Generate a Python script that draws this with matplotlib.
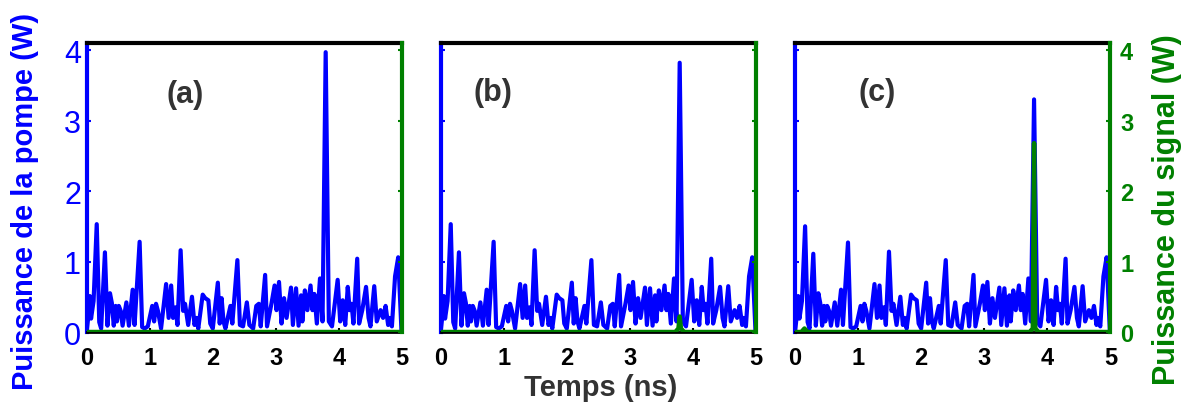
import matplotlib
matplotlib.use("Agg")
import matplotlib.pyplot as plt

# Time axis (ns)
t_pump = [0.00, 0.03, 0.05, 0.07, 0.11, 0.16, 0.20, 0.23, 0.29, 0.33, 0.37, 0.40, 0.43, 0.46,
          0.48, 0.51, 0.54, 0.57, 0.63, 0.67, 0.73, 0.76, 0.84, 0.88, 0.92, 0.97, 1.04, 1.07,
          1.10, 1.13, 1.18, 1.26, 1.30, 1.34, 1.37, 1.41, 1.44, 1.49, 1.53, 1.56, 1.61, 1.67,
          1.71, 1.74, 1.77, 1.84, 1.88, 1.93, 1.96, 2.00, 2.08, 2.11, 2.14, 2.17, 2.20, 2.28,
          2.31, 2.39, 2.43, 2.48, 2.54, 2.58, 2.64, 2.69, 2.73, 2.76, 2.83, 2.86, 2.93, 2.98,
          3.01, 3.05, 3.09, 3.13, 3.17, 3.24, 3.27, 3.32, 3.36, 3.40, 3.42, 3.46, 3.50, 3.55,
          3.58, 3.61, 3.65, 3.70, 3.74, 3.79, 3.84, 3.89, 3.98, 4.02, 4.06, 4.10, 4.14, 4.17,
          4.20, 4.23, 4.29, 4.32, 4.37, 4.43, 4.47, 4.50, 4.56, 4.60, 4.66, 4.70, 4.74, 4.78,
          4.80, 4.84, 4.89, 4.94, 4.99]
# Pump power (W) for panels (a), (b), (c)
pump_a = [0.00, 0.25, 0.51, 0.19, 0.44, 1.53, 0.14, 0.05, 1.13, 0.09, 0.55, 0.41, 0.09, 0.37,
          0.15, 0.37, 0.30, 0.09, 0.42, 0.09, 0.60, 0.10, 1.28, 0.07, 0.05, 0.08, 0.37, 0.15,
          0.40, 0.30, 0.05, 0.68, 0.20, 0.66, 0.20, 0.35, 0.10, 1.16, 0.30, 0.40, 0.10, 0.50,
          0.10, 0.20, 0.05, 0.53, 0.48, 0.45, 0.12, 0.05, 0.70, 0.12, 0.48, 0.15, 0.05, 0.37,
          0.12, 1.02, 0.10, 0.08, 0.42, 0.10, 0.05, 0.37, 0.40, 0.08, 0.81, 0.08, 0.40, 0.66,
          0.31, 0.71, 0.12, 0.48, 0.20, 0.63, 0.10, 0.62, 0.09, 0.52, 0.15, 0.59, 0.31, 0.66,
          0.31, 0.54, 0.12, 0.76, 0.15, 3.97, 0.15, 0.08, 0.74, 0.15, 0.45, 0.10, 0.64, 0.31,
          0.40, 0.12, 1.04, 0.12, 0.31, 0.64, 0.20, 0.08, 0.65, 0.15, 0.31, 0.20, 0.37, 0.10,
          0.20, 0.08, 0.79, 1.06, 0.05]
pump_b = [0.00, 0.25, 0.51, 0.19, 0.44, 1.53, 0.14, 0.05, 1.13, 0.09, 0.55, 0.41, 0.09, 0.37,
          0.15, 0.37, 0.30, 0.09, 0.42, 0.09, 0.60, 0.10, 1.28, 0.07, 0.05, 0.08, 0.37, 0.15,
          0.40, 0.30, 0.05, 0.68, 0.20, 0.66, 0.20, 0.35, 0.10, 1.16, 0.30, 0.40, 0.10, 0.50,
          0.10, 0.20, 0.05, 0.53, 0.48, 0.45, 0.12, 0.05, 0.70, 0.12, 0.48, 0.15, 0.05, 0.37,
          0.12, 1.02, 0.10, 0.08, 0.42, 0.10, 0.05, 0.37, 0.40, 0.08, 0.81, 0.08, 0.40, 0.66,
          0.31, 0.71, 0.12, 0.48, 0.20, 0.63, 0.10, 0.62, 0.09, 0.52, 0.15, 0.59, 0.31, 0.66,
          0.31, 0.54, 0.12, 0.76, 0.15, 3.82, 0.15, 0.08, 0.74, 0.15, 0.45, 0.10, 0.64, 0.31,
          0.40, 0.12, 1.04, 0.12, 0.31, 0.64, 0.20, 0.08, 0.65, 0.15, 0.31, 0.20, 0.37, 0.10,
          0.20, 0.08, 0.79, 1.06, 0.05]
pump_c = [0.00, 0.25, 0.51, 0.19, 0.44, 1.50, 0.14, 0.05, 1.11, 0.09, 0.55, 0.41, 0.09, 0.37,
          0.15, 0.37, 0.30, 0.09, 0.42, 0.09, 0.60, 0.10, 1.27, 0.07, 0.05, 0.08, 0.37, 0.15,
          0.40, 0.30, 0.05, 0.68, 0.20, 0.66, 0.20, 0.35, 0.10, 1.14, 0.30, 0.40, 0.10, 0.50,
          0.10, 0.20, 0.05, 0.53, 0.48, 0.45, 0.12, 0.05, 0.70, 0.12, 0.48, 0.15, 0.05, 0.37,
          0.12, 1.02, 0.10, 0.08, 0.42, 0.10, 0.05, 0.37, 0.40, 0.08, 0.81, 0.08, 0.40, 0.66,
          0.31, 0.71, 0.12, 0.48, 0.20, 0.63, 0.10, 0.62, 0.09, 0.52, 0.15, 0.59, 0.31, 0.66,
          0.31, 0.54, 0.12, 0.76, 0.15, 3.30, 0.15, 0.08, 0.74, 0.15, 0.45, 0.10, 0.64, 0.31,
          0.40, 0.12, 1.04, 0.12, 0.31, 0.64, 0.20, 0.08, 0.65, 0.15, 0.31, 0.20, 0.37, 0.10,
          0.20, 0.08, 0.79, 1.06, 0.05]

# Signal power (W)
t_sig = [0.00, 0.10, 0.15, 0.20, 3.72, 3.77, 3.79, 3.81, 3.86, 5.00]
sig_a = [0.00, 0.00, 0.00, 0.00, 0.00, 0.00, 0.00, 0.00, 0.00, 0.00]
sig_b = [0.00, 0.00, 0.00, 0.00, 0.00, 0.05, 0.22, 0.05, 0.00, 0.00]
sig_c = [0.00, 0.00, 0.05, 0.00, 0.00, 0.05, 2.68, 0.05, 0.00, 0.00]

panel_labels = ["(a)", "(b)", "(c)"]
label_pos = [(1.56, 3.37), (0.83, 3.41), (1.30, 3.41)]
x_ticks = [0, 1, 2, 3, 4, 5]
y_ticks = [0, 1, 2, 3, 4]

BLUE = "#0000FF"
GREEN = "#008000"
GRAY = "#333333"

plt.rcParams['font.family'] = ["Liberation Sans", "DejaVu Sans"]

fig = plt.figure(figsize=(11.82, 4.06), dpi=100)
lefts = [0.0733, 0.3728, 0.6726]
width = 0.2668
bottom = 0.1798
height = 0.7118

pumps = [pump_a, pump_b, pump_c]
sigs = [sig_a, sig_b, sig_c]

for i in range(3):
    ax = fig.add_axes([lefts[i], bottom, width, height])
    ax2 = ax.twinx()
    ax.plot(t_pump, pumps[i], color=BLUE, lw=3, solid_joinstyle='round', zorder=3)
    ax2.plot(t_sig, sigs[i], color=GREEN, lw=3.2, zorder=4)
    for a in (ax, ax2):
        a.set_xlim(0, 5)
        a.set_ylim(0, 4.1)
        a.set_yticks(y_ticks)
        a.set_xticks(x_ticks)
        a.tick_params(direction='in', length=3, width=1.5)
    ax.spines['top'].set_color('black')
    ax.spines['top'].set_linewidth(3)
    ax.spines['left'].set_color(BLUE)
    ax.spines['left'].set_linewidth(3)
    ax.spines['right'].set_visible(False)
    ax.spines['bottom'].set_linewidth(2)
    ax2.spines['right'].set_color(GREEN)
    ax2.spines['right'].set_linewidth(3)
    for s in ('top', 'left', 'bottom'):
        ax2.spines[s].set_visible(False)
    ax.tick_params(axis='x', labelsize=17, colors='black', pad=10)
    ax.tick_params(axis='y', labelsize=22, colors=BLUE, labelleft=(i == 0), pad=4)
    ax2.tick_params(axis='y', labelsize=17, colors=GREEN, labelright=(i == 2), pad=7)
    for lab in ax.get_xticklabels():
        lab.set_fontweight('bold')
    for lab in ax2.get_yticklabels():
        lab.set_fontweight('bold')
    ax.text(label_pos[i][0], label_pos[i][1], panel_labels[i], color=GRAY,
            fontsize=22, fontweight='bold', ha='center', va='center')

fig.text(25 / 1182, 1 - 201 / 406, "Puissance de la pompe (W)", color=BLUE, fontsize=21,
         fontweight='bold', rotation=90, ha='center', va='center')
fig.text(1167 / 1182, 1 - 210 / 406, "Puissance du signal (W)", color=GREEN, fontsize=22,
         fontweight='bold', rotation=90, ha='center', va='center')
fig.text(600.7 / 1182, 1 - 388 / 406, "Temps (ns)", color=GRAY, fontsize=21,
         fontweight='bold', ha='center', va='center')

fig.savefig("out.png", dpi=100)
